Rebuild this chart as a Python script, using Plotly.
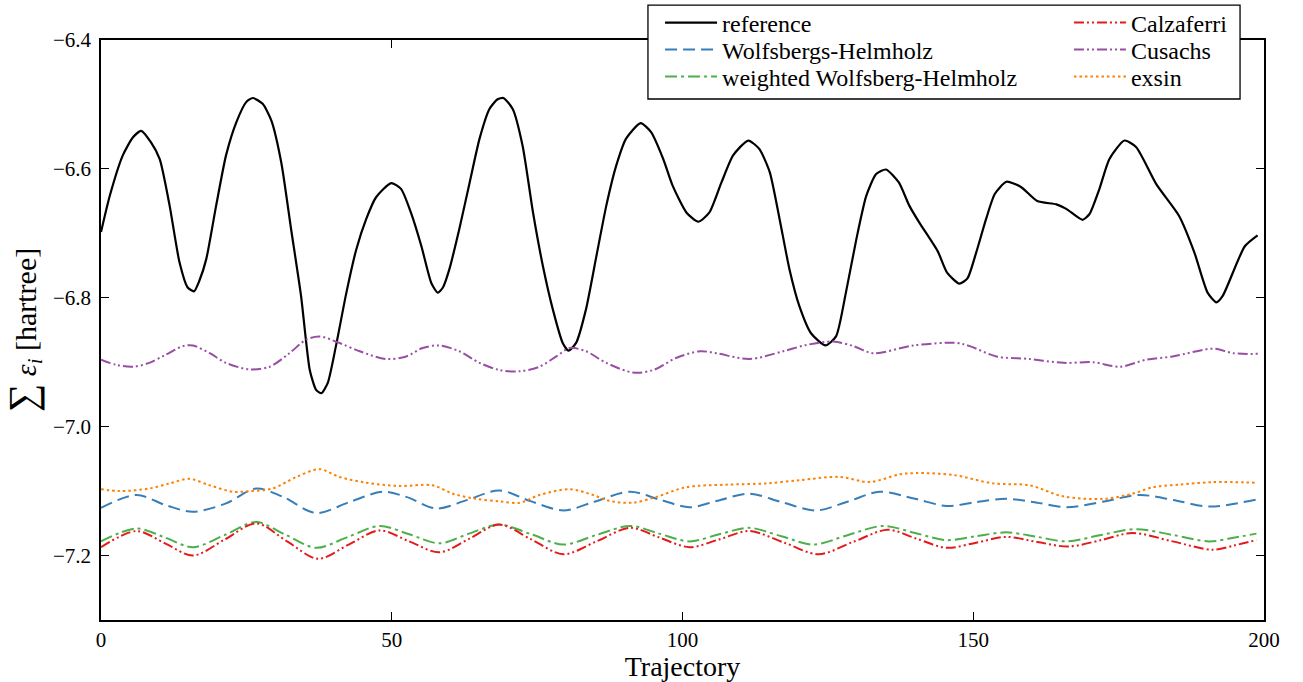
import plotly.graph_objects as go

# ---------------- data ----------------
ref_t = [0, 1.5, 3.75, 5.5, 6.9, 8.6, 10.1, 11.8, 13.5, 14.9, 16.0, 16.9, 18.1, 19.8, 21.5, 23.3, 25.0, 26.1,
         27.8, 29.3, 31.0, 32.7, 34.4, 35.9, 37.0, 37.9, 39.0, 40.4, 42.2, 43.9, 45.6, 47.3, 49.9, 51.6, 53.3,
         55.1, 56.8, 57.9, 58.8, 59.9, 61.6, 63.4, 65.1, 66.8, 68.2, 69.2, 70.8, 72.5, 74.3, 76.0, 77.7, 79.4,
         80.4, 81.7, 83.4, 85.2, 86.9, 88.6, 90.3, 92.8, 94.6, 96.7, 98.3, 100.7, 102.7, 104.6, 106.7, 108.7,
         111.3, 113.2, 115.0, 116.7, 118.4, 120.1, 122.1, 124.6, 126.4, 128.1, 129.9, 131.6, 133.3, 135.0,
         137.2, 139.0, 140.7, 143.9, 145.5, 147.6, 149.0, 150.5, 152.2, 153.7, 155.7, 158.2, 161.0, 164.3,
         166.0, 168.8, 170.0, 171.7, 173.4, 176.0, 178.0, 181.5, 185.4, 188.0, 190.3, 191.8, 192.9, 196.7, 198.9]
ref_y = [-6.698, -6.642, -6.579, -6.551, -6.541, -6.559, -6.585, -6.657, -6.745, -6.784, -6.790, -6.774,
         -6.740, -6.657, -6.579, -6.527, -6.496, -6.490, -6.499, -6.525, -6.590, -6.694, -6.797, -6.912,
         -6.943, -6.948, -6.932, -6.875, -6.792, -6.725, -6.678, -6.644, -6.622, -6.631, -6.668, -6.720,
         -6.777, -6.792, -6.784, -6.756, -6.694, -6.621, -6.553, -6.507, -6.492, -6.490, -6.507, -6.564,
         -6.668, -6.751, -6.818, -6.870, -6.882, -6.870, -6.818, -6.735, -6.657, -6.595, -6.553, -6.529,
         -6.543, -6.585, -6.626, -6.668, -6.682, -6.668, -6.621, -6.579, -6.556, -6.569, -6.605, -6.678,
         -6.756, -6.813, -6.855, -6.874, -6.860, -6.792, -6.709, -6.642, -6.608, -6.601, -6.621, -6.657,
         -6.683, -6.728, -6.761, -6.778, -6.770, -6.730, -6.678, -6.639, -6.620, -6.628, -6.650, -6.655,
         -6.662, -6.679, -6.670, -6.631, -6.585, -6.556, -6.566, -6.624, -6.673, -6.729, -6.792, -6.807,
         -6.797, -6.720, -6.703]

wh_t = [0, 6.1, 11.2, 15.8, 21.5, 26.7, 31.3, 37.0, 42.7, 48.5, 52.5, 57.7, 62.9, 68.5, 74, 79.5, 85, 91.0,
        96, 101.2, 106, 111.5, 117, 123.0, 128.5, 133.9, 140, 145.4, 150.5, 155.7, 161, 166.1, 172.5, 178.7,
        185, 190.7, 198.7]
wh_y = [-7.126, -7.106, -7.122, -7.132, -7.119, -7.096, -7.109, -7.134, -7.117, -7.101, -7.109, -7.127,
        -7.114, -7.099, -7.116, -7.130, -7.116, -7.101, -7.113, -7.125, -7.115, -7.104, -7.117, -7.130,
        -7.116, -7.101, -7.112, -7.123, -7.117, -7.112, -7.118, -7.125, -7.116, -7.106, -7.115, -7.124, -7.113]

wwh_t = [0, 6.1, 11, 15.8, 21.3, 26.7, 31.8, 37.0, 42.5, 47.9, 53, 58.2, 63.3, 68.5, 74, 79.5, 85.2, 91.0,
         96, 101.2, 106.3, 111.5, 117, 122.5, 128.5, 134.5, 140, 145.4, 150.5, 155.7, 161, 166.1, 172, 178.0,
         184.3, 190.6, 195, 198.7]
wwh_y = [-7.178, -7.158, -7.172, -7.187, -7.168, -7.148, -7.168, -7.188, -7.171, -7.154, -7.167, -7.181,
         -7.166, -7.152, -7.167, -7.183, -7.168, -7.154, -7.166, -7.178, -7.167, -7.157, -7.170, -7.183,
         -7.168, -7.154, -7.165, -7.176, -7.170, -7.164, -7.171, -7.178, -7.168, -7.159, -7.168, -7.178,
         -7.172, -7.166]

calz_t = [0, 6.1, 11, 15.8, 21.3, 26.7, 32, 37.3, 42.6, 47.9, 53, 58.2, 63.3, 68.5, 74, 79.5, 85.2, 91.0,
          96, 101.2, 106.3, 111.5, 117.5, 123.4, 129.3, 135.3, 140.3, 145.4, 150.5, 155.7, 161, 166.4, 172,
          177.4, 184.3, 191.2, 195, 198.7]
calz_y = [-7.187, -7.162, -7.181, -7.200, -7.175, -7.150, -7.178, -7.205, -7.183, -7.161, -7.178, -7.195,
          -7.174, -7.152, -7.175, -7.198, -7.178, -7.157, -7.172, -7.187, -7.175, -7.162, -7.180, -7.198,
          -7.179, -7.160, -7.174, -7.188, -7.180, -7.171, -7.179, -7.186, -7.176, -7.165, -7.178, -7.191,
          -7.184, -7.176]

cus_t = [0, 2.6, 5.5, 8.3, 11.2, 14.1, 15.8, 18.7, 21.5, 25.5, 29.0, 32.4, 35.3, 37.6, 40.4, 44.5, 49.0,
         52.5, 55.3, 58.2, 61.6, 65.1, 68.5, 72.0, 75.4, 78.3, 80.6, 83.4, 86.9, 91.5, 95.0, 99.0, 103.0,
         105.8, 111.5, 117.3, 121.4, 125.9, 129.4, 132.8, 139.7, 147.1, 149.4, 154.0, 159.7, 165.5, 170.6,
         175.2, 179.8, 184.3, 191.3, 194.7, 199]
cus_y = [-6.896, -6.904, -6.907, -6.901, -6.888, -6.875, -6.874, -6.886, -6.901, -6.911, -6.907, -6.886,
         -6.865, -6.860, -6.868, -6.883, -6.895, -6.891, -6.878, -6.874, -6.883, -6.901, -6.912, -6.914,
         -6.907, -6.891, -6.878, -6.883, -6.901, -6.916, -6.912, -6.893, -6.883, -6.886, -6.895, -6.883,
         -6.873, -6.868, -6.875, -6.886, -6.874, -6.870, -6.875, -6.891, -6.895, -6.901, -6.900, -6.907,
         -6.896, -6.891, -6.879, -6.886, -6.887]

exs_t = [0, 3.2, 8.3, 11.8, 15.2, 18.7, 22.7, 25.5, 29.5, 33.6, 37.6, 41.0, 45.6, 51.3, 57.0, 60.5, 64.5,
         68.5, 72.0, 75.4, 80.6, 84.6, 87.4, 91.5, 95.5, 100.6, 107.5, 114.4, 120.1, 127.0, 132.2, 137.3,
         140.2, 146.6, 153.4, 159.7, 165.4, 172.3, 177.4, 180.9, 185.5, 191.2, 198.7]
exs_y = [-7.097, -7.100, -7.096, -7.088, -7.081, -7.091, -7.101, -7.100, -7.096, -7.078, -7.066, -7.078,
         -7.087, -7.092, -7.091, -7.104, -7.112, -7.116, -7.118, -7.106, -7.097, -7.106, -7.115, -7.118,
         -7.109, -7.094, -7.090, -7.088, -7.083, -7.078, -7.086, -7.074, -7.072, -7.075, -7.088, -7.091,
         -7.108, -7.112, -7.104, -7.094, -7.090, -7.086, -7.087]

x_ticks = [0, 50, 100, 150, 200]
y_ticks = [-6.4, -6.6, -6.8, -7.0, -7.2]

# ---------------- figure ----------------
FONT = "Liberation Serif"
fig = go.Figure()

# name, x, y, colour, dash, legend column (0/1), legend row (0..2)
series = [
    ("reference", ref_t, ref_y, "black", "solid", 0, 0),
    ("Wolfsbergs-Helmholz", wh_t, wh_y, "#377eb8", "12px,6px", 0, 1),
    ("weighted Wolfsberg-Helmholz", wwh_t, wwh_y, "#4daf4a", "12px,4px,3px,4px", 0, 2),
    ("Calzaferri", calz_t, calz_y, "#e41a1c", "10px,3px,2px,3px,2px,3px", 1, 0),
    ("Cusachs", cus_t, cus_y, "#984ea3", "10px,3px,2px,3px,2px,3px", 1, 1),
    ("exsin", exs_t, exs_y, "#ff7f00", "2.5px,3px", 1, 2),
]

col_x = [0.4807, 0.8323]
row_y = [1.0293, 0.9828, 0.9362]
legend_layouts = {}
for i, (name, xs, ys, col, dash, c, r) in enumerate(series):
    key = "legend" if i == 0 else f"legend{i + 1}"
    fig.add_trace(go.Scatter(
        x=xs, y=ys, mode="lines", name=name, legend=key, showlegend=True,
        line=dict(color=col, width=2.2 if i == 0 else 2, dash=dash, shape="spline",
                  smoothing=0.6 if i == 0 else 0.9),
    ))
    legend_layouts[key] = dict(
        x=col_x[c], y=row_y[r], xanchor="left", yanchor="middle",
        bgcolor="rgba(0,0,0,0)", borderwidth=0,
        font=dict(family=FONT, size=24, color="black"), itemwidth=52,
    )

axis_common = dict(
    showline=True, linecolor="black", linewidth=1.5, mirror="ticks",
    ticks="inside", ticklen=8, tickwidth=1.2, tickcolor="black",
    showgrid=False, zeroline=False, automargin=False,
    tickfont=dict(family=FONT, size=21, color="black"),
)

fig.update_layout(
    width=1303, height=682,
    margin=dict(l=101, r=39, t=40, b=62, autoexpand=False),
    showlegend=True,
    paper_bgcolor="white", plot_bgcolor="white",
    font=dict(family=FONT, color="black"),
    xaxis=dict(range=[0, 200], tickvals=x_ticks, ticktext=[str(v) for v in x_ticks],
               title=dict(text="Trajectory", font=dict(family=FONT, size=28), standoff=5),
               **axis_common),
    yaxis=dict(range=[-7.3, -6.4], tickvals=y_ticks, tickformat=".1f", ticklabelstandoff=4,
               title=dict(text="<span style='font-size:40px'>∑</span> <i>ε<sub>i</sub></i> [hartree]",
                          font=dict(family=FONT, size=30), standoff=10),
               **axis_common),
    shapes=[dict(type="rect", xref="paper", yref="paper", x0=0.4703, x1=0.9794, y0=0.8983, y1=1.0603,
                 fillcolor="white", line=dict(color="black", width=1.3), layer="above")],
    **legend_layouts,
)

fig.write_html("out.html")
